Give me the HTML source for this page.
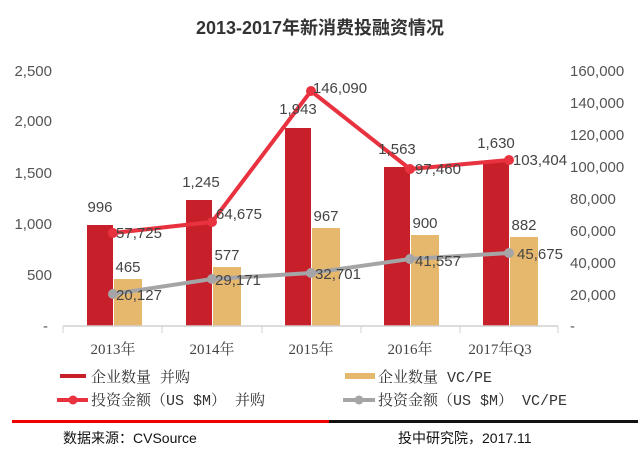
<!DOCTYPE html>
<html><head><meta charset="utf-8"><style>
body{margin:0;background:#fff}
svg text{font-family:"Liberation Sans","Noto Sans CJK SC",sans-serif}
svg .sf{font-family:"Liberation Serif","Noto Serif CJK SC",serif}
svg .mf{font-family:"Liberation Mono","Noto Serif CJK SC",monospace}
</style></head><body>
<svg width="640" height="460" xmlns="http://www.w3.org/2000/svg">
<rect width="640" height="460" fill="#fff"/>
<text x="320" y="34" text-anchor="middle" font-size="18" font-weight="bold" fill="#333">2013-2017年新消费投融资情况</text>
<g font-size="15" fill="#555">
<text x="52" y="76" text-anchor="end">2,500</text>
<text x="52" y="126" text-anchor="end">2,000</text>
<text x="52" y="178" text-anchor="end">1,500</text>
<text x="52" y="229" text-anchor="end">1,000</text>
<text x="52" y="280" text-anchor="end">500</text>
<text x="48" y="331" text-anchor="end">-</text>
<text x="570" y="76">160,000</text>
<text x="570" y="108">140,000</text>
<text x="570" y="140">120,000</text>
<text x="570" y="172">100,000</text>
<text x="570" y="204">80,000</text>
<text x="570" y="236">60,000</text>
<text x="570" y="268">40,000</text>
<text x="570" y="300">20,000</text>
<text x="570" y="331">-</text>
</g>
<g fill="#c8202a">
<rect x="87" y="225" width="26" height="101"/>
<rect x="186" y="200" width="26" height="126"/>
<rect x="285" y="128" width="26" height="198"/>
<rect x="384" y="167" width="26" height="159"/>
<rect x="483" y="161" width="26" height="165"/>
</g>
<g fill="#e6b86d">
<rect x="114" y="279" width="28" height="47"/>
<rect x="213" y="267" width="28" height="59"/>
<rect x="312" y="228" width="28" height="98"/>
<rect x="411" y="235" width="28" height="91"/>
<rect x="510" y="237" width="28" height="89"/>
</g>
<line x1="63" y1="326" x2="558" y2="326" stroke="#d0d0d0" stroke-width="1.5"/>
<g stroke="#d0d0d0"><line x1="63" y1="326" x2="63" y2="333"/><line x1="162" y1="326" x2="162" y2="333"/><line x1="262" y1="326" x2="262" y2="333"/><line x1="361" y1="326" x2="361" y2="333"/><line x1="460" y1="326" x2="460" y2="333"/><line x1="558" y1="326" x2="558" y2="333"/></g>
<polyline points="113,233 212,222 311,91 410,169 509,160" fill="none" stroke="#e8323f" stroke-width="4"/>
<g fill="#e8323f"><circle cx="113" cy="233" r="5"/><circle cx="212" cy="222" r="5"/><circle cx="311" cy="91" r="5"/><circle cx="410" cy="169" r="5"/><circle cx="509" cy="160" r="5"/></g>
<polyline points="113,294 212,279 311,273 410,259 509,253" fill="none" stroke="#a5a5a8" stroke-width="4"/>
<g fill="#a5a5a8"><circle cx="113" cy="294" r="5"/><circle cx="212" cy="279" r="5"/><circle cx="311" cy="273" r="5"/><circle cx="410" cy="259" r="5"/><circle cx="509" cy="253" r="5"/></g>
<g font-size="15" fill="#444" text-anchor="middle">
<text x="100" y="212">996</text><text x="201" y="187">1,245</text><text x="298" y="114">1,943</text><text x="397" y="154">1,563</text><text x="496" y="148">1,630</text>
<text x="128" y="272">465</text><text x="227" y="260">577</text><text x="326" y="221">967</text><text x="425" y="228">900</text><text x="524" y="230">882</text>
<text x="139" y="238">57,725</text><text x="239" y="219">64,675</text><text x="340" y="93">146,090</text><text x="438" y="174">97,460</text><text x="540" y="165">103,404</text>
<text x="139" y="300">20,127</text><text x="238" y="285">29,171</text><text x="338" y="279">32,701</text><text x="438" y="266">41,557</text><text x="540" y="259">45,675</text>
</g>
<g font-size="15" fill="#444" text-anchor="middle" class="sf">
<text class="sf" x="113" y="354">2013年</text><text class="sf" x="212" y="354">2014年</text><text class="sf" x="311" y="354">2015年</text><text class="sf" x="410" y="354">2016年</text><text class="sf" x="500" y="354">2017年Q3</text>
</g>
<g font-size="15" fill="#333">
<rect x="60" y="374" width="26" height="4" fill="#c8202a"/>
<text class="mf" x="91" y="382">企业数量 并购</text>
<rect x="345" y="373" width="30" height="6" fill="#e6b86d"/>
<text class="mf" x="378" y="382">企业数量 VC/PE</text>
<line x1="57" y1="400" x2="88" y2="400" stroke="#e8323f" stroke-width="4"/><circle cx="73" cy="400" r="4.5" fill="#e8323f"/>
<text class="mf" x="91" y="405">投资金额（US $M） 并购</text>
<line x1="343" y1="400" x2="375" y2="400" stroke="#a5a5a8" stroke-width="4"/><circle cx="359" cy="400" r="4.5" fill="#a5a5a8"/>
<text class="mf" x="378" y="405">投资金额（US $M） VC/PE</text>
</g>
<rect x="12" y="420" width="317" height="3" fill="#f20000"/>
<rect x="329" y="420" width="309" height="3" fill="#111"/>
<g font-size="14" fill="#111">
<text x="63" y="443">数据来源：CVSource</text>
<text x="398" y="443">投中研究院，2017.11</text>
</g>
</svg>
</body></html>
